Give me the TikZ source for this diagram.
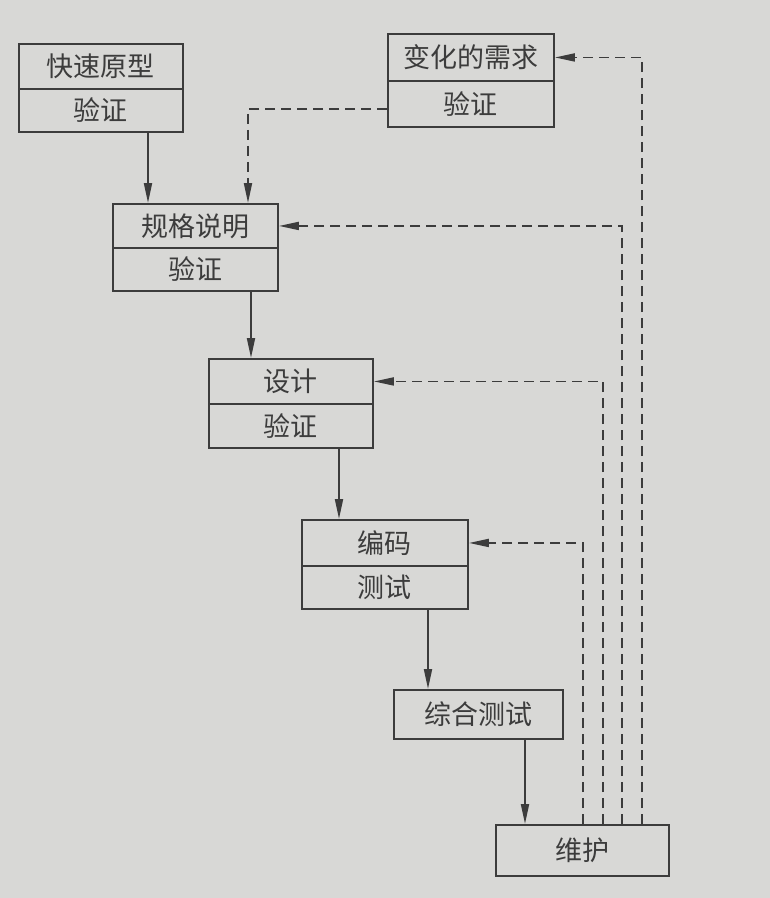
\documentclass[tikz,border=0pt]{standalone}
\usepackage{fontspec}
\newfontfamily\cjk{Noto Sans CJK SC}
\usetikzlibrary{arrows.meta}
\definecolor{paper}{HTML}{D8D8D6}
\definecolor{ink}{HTML}{3C3C3C}
\begin{document}
\begin{tikzpicture}[x=1pt,y=-1pt,
  line width=1.9pt,
  cell/.style={draw=ink, rectangle, inner sep=0pt, anchor=north west, text=ink,
    font=\cjk\fontsize{27}{29}\selectfont},
  flow/.style={draw=ink, -{Triangle[length=20pt,width=8pt]}},
  back/.style={draw=ink, dash pattern=on 10pt off 6pt, -{Triangle[length=20pt,width=8pt]}}]
\fill[paper] (0,0) rectangle (770,898);
\useasboundingbox (0,0) rectangle (770,898);
% boxes: top part / bottom part
\node[cell, minimum width=164pt, minimum height=45pt] (a1) at (18,43) {快速原型};
\node[cell, minimum width=164pt, minimum height=43pt] (a2) at (18,88) {验证};
\node[cell, minimum width=166pt, minimum height=47pt] (b1) at (387,33) {变化的需求};
\node[cell, minimum width=166pt, minimum height=46pt] (b2) at (387,80) {验证};
\node[cell, minimum width=165pt, minimum height=44pt] (c1) at (112,203) {规格说明};
\node[cell, minimum width=165pt, minimum height=43pt] (c2) at (112,247) {验证};
\node[cell, minimum width=164pt, minimum height=45pt] (d1) at (208,358) {设计};
\node[cell, minimum width=164pt, minimum height=44pt] (d2) at (208,403) {验证};
\node[cell, minimum width=166pt, minimum height=46pt] (e1) at (301,519) {编码};
\node[cell, minimum width=166pt, minimum height=43pt] (e2) at (301,565) {测试};
\node[cell, minimum width=169pt, minimum height=49pt] (f) at (393,689) {综合测试};
\node[cell, minimum width=173pt, minimum height=51pt] (g) at (495,824) {维护};
% forward flow
\draw[flow] (a2.south -| 148,0) -- (c1.north -| 148,0);
\draw[flow] (c2.south -| 251,0) -- (d1.north -| 251,0);
\draw[flow] (d2.south -| 339,0) -- (e1.north -| 339,0);
\draw[flow] (e2.south -| 428,0) -- (f.north -| 428,0);
\draw[flow] (f.south -| 525,0) -- (g.north -| 525,0);
% changing requirements to specification
\draw[back] ([yshift=-5pt]b2.west) -| (c1.north -| 248,0);
% feedback from maintenance
\draw[back] (g.north -| 642,0) |- (b1.east);
\draw[back] (g.north -| 622,0) |- (c1.east);
\draw[back] (g.north -| 603,0) |- (d1.east);
\draw[back] (g.north -| 583,0) |- (e1.east);
\end{tikzpicture}
\end{document}
